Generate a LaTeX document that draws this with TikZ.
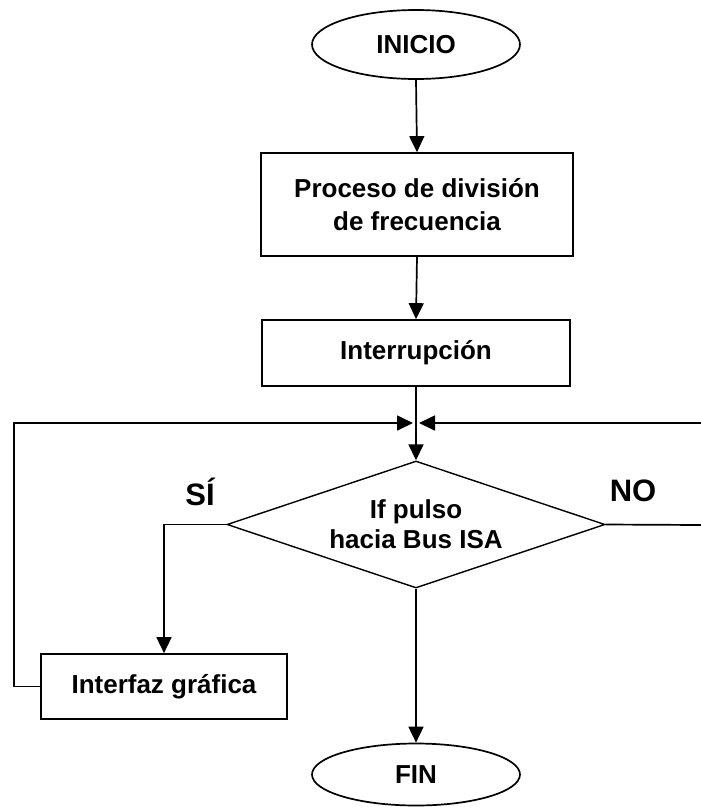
\documentclass[tikz,border=0pt]{standalone}
\usepackage{fontspec}
\setmainfont{Liberation Sans}
\usetikzlibrary{shapes.geometric,arrows.meta}
\begin{document}
\begin{tikzpicture}[x=1pt,y=-1pt,
  line width=1.7pt,
  every node/.style={font=\bfseries\fontsize{26}{33}\selectfont, inner sep=0pt, align=center},
  procbox/.style={draw, rectangle},
  term/.style={draw, ellipse, minimum width=208pt},
  decis/.style={draw, diamond, line width=1.4pt, shape aspect=2.98, minimum width=378pt, minimum height=127pt},
  arr/.style={-{Triangle[length=16pt,width=15pt]}},
  lbl/.style={font=\bfseries\fontsize{31}{31}\selectfont}]
\useasboundingbox (0,0) rectangle (701,807);
\node[term, minimum height=69pt] (inicio) at (416,44.5) {INICIO};
\node[procbox, minimum width=312pt, minimum height=103pt] (proc) at (417,204.5) {Proceso de división\\de frecuencia};
\node[procbox, minimum width=308pt, minimum height=66pt] (intr) at (416,353) {Interrupción};
\node[decis, font=\bfseries\fontsize{26}{30}\selectfont] (dec) at (416,524.5) {If pulso\\hacia Bus ISA};
\node[procbox, minimum width=246pt, minimum height=65pt] (gui) at (164,686.5) {Interfaz gráfica};
\node[term, minimum height=62pt] (fin) at (416,774.5) {FIN};
\node[lbl] (si) at (200,492) {SÍ};
\node[lbl] (no) at (633,491) {NO};
\coordinate (J) at (416,423);
\coordinate (R1) at (701,423);
\coordinate (R2) at (701,525);
\coordinate (L1) at (14,686.5);
\draw[arr] (inicio.south) -- (proc.north);
\draw[arr] (proc.south) -- (intr.north);
\draw[arr] (intr.south) -- (dec.north);
\draw[arr, shorten >=3pt] (gui.west) -- (L1) |- (J);
\draw[arr, shorten >=3pt] (R1) -- (J);
\draw (dec.east) -- (R2);
\draw[arr] (dec.west) -| (gui.north);
\draw[arr] (dec.south) -- (fin.north);
\end{tikzpicture}
\end{document}
